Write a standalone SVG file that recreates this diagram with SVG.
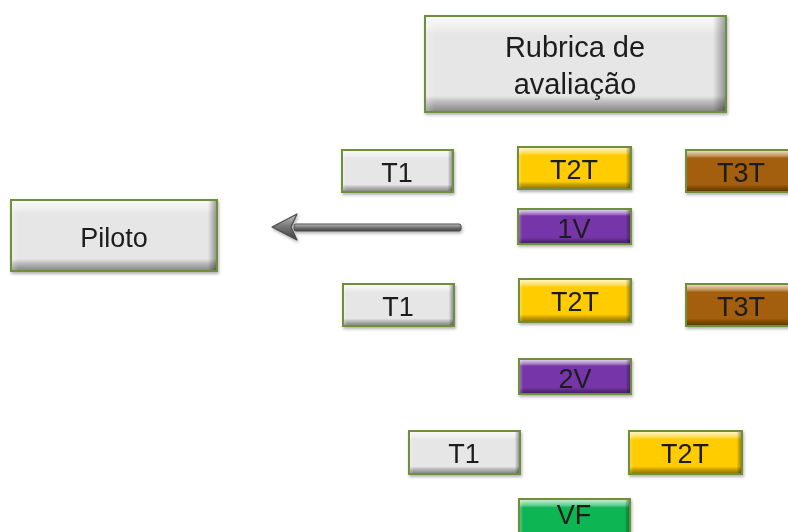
<svg xmlns="http://www.w3.org/2000/svg" width="788" height="532" viewBox="0 0 788 532">
  <defs>
    <style>
      .box { stroke: #6f8f3a; stroke-width: 2; }
      .grey { fill: #e6e6e6; }
      .yellow { fill: #ffcc00; }
      .brown { fill: #a35f07; }
      .purple { fill: #7636a8; }
      .green { fill: #10b552; }
      .bevel { fill: url(#bevelV); stroke: none; }
      .bevelH { fill: url(#bevelH); stroke: none; }
      .label { font-family: "Liberation Sans", Arial, sans-serif; font-size: 27px; fill: #1c1c1c; text-anchor: middle; }
      .big { font-size: 29px; }
      .node { filter: url(#shadow); }
    </style>
    <linearGradient id="bevelV" x1="0" y1="0" x2="0" y2="1">
      <stop offset="0" stop-color="#ffffff" stop-opacity="0.75"/>
      <stop offset="0.12" stop-color="#ffffff" stop-opacity="0.35"/>
      <stop offset="0.18" stop-color="#ffffff" stop-opacity="0"/>
      <stop offset="0.84" stop-color="#000000" stop-opacity="0"/>
      <stop offset="0.9" stop-color="#000000" stop-opacity="0.18"/>
      <stop offset="1" stop-color="#000000" stop-opacity="0.4"/>
    </linearGradient>
    <linearGradient id="bevelH" x1="0" y1="0" x2="1" y2="0">
      <stop offset="0" stop-color="#ffffff" stop-opacity="0.25"/>
      <stop offset="0.03" stop-color="#ffffff" stop-opacity="0"/>
      <stop offset="0.96" stop-color="#000000" stop-opacity="0"/>
      <stop offset="1" stop-color="#000000" stop-opacity="0.35"/>
    </linearGradient>
    <linearGradient id="shaft" x1="0" y1="0" x2="0" y2="1">
      <stop offset="0" stop-color="#c4c4c4"/>
      <stop offset="0.45" stop-color="#7a7a7a"/>
      <stop offset="1" stop-color="#3e3e3e"/>
    </linearGradient>
    <filter id="shadow" x="-10%" y="-20%" width="120%" height="150%">
      <feDropShadow dx="1" dy="2" stdDeviation="1.5" flood-color="#000" flood-opacity="0.3"/>
    </filter>
  </defs>

  <!-- connector: shaded arrow pointing left -->
  <g id="connectors" filter="url(#shadow)">
    <rect x="294" y="224" width="167" height="7" rx="2" fill="url(#shaft)" stroke="#4a4a4a" stroke-width="1"/>
    <polygon points="272,227 297,214 291,227 297,240" fill="url(#shaft)" stroke="#4a4a4a" stroke-width="1.2" stroke-linejoin="round"/>
  </g>

  <!-- nodes -->
  <g id="rubrica" class="node">
    <rect class="box grey" x="425" y="16" width="301" height="96"/>
    <rect class="bevel" x="426" y="17" width="299" height="94"/>
    <rect class="bevelH" x="426" y="17" width="299" height="94"/>
    <text class="label big" x="575" y="57">Rubrica de</text>
    <text class="label big" x="575" y="94">avaliação</text>
  </g>

  <g id="piloto" class="node">
    <rect class="box grey" x="11" y="200" width="206" height="71"/>
    <rect class="bevel" x="12" y="201" width="204" height="69"/>
    <rect class="bevelH" x="12" y="201" width="204" height="69"/>
    <text class="label" x="114" y="247">Piloto</text>
  </g>

  <g id="t1a" class="node">
    <rect class="box grey" x="342" y="150" width="111" height="42"/>
    <rect class="bevel" x="343" y="151" width="109" height="40"/>
    <rect class="bevelH" x="343" y="151" width="109" height="40"/>
    <text class="label" x="397" y="182">T1</text>
  </g>

  <g id="t2ta" class="node">
    <rect class="box yellow" x="518" y="147" width="113" height="42"/>
    <rect class="bevel" x="519" y="148" width="111" height="40"/>
    <rect class="bevelH" x="519" y="148" width="111" height="40"/>
    <text class="label" x="574" y="179">T2T</text>
  </g>

  <g id="t3ta" class="node">
    <rect class="box brown" x="686" y="150" width="112" height="42"/>
    <rect class="bevel" x="687" y="151" width="110" height="40"/>
    <text class="label" x="741" y="182">T3T</text>
  </g>

  <g id="v1" class="node">
    <rect class="box purple" x="518" y="209" width="113" height="35"/>
    <rect class="bevel" x="519" y="210" width="111" height="33"/>
    <rect class="bevelH" x="519" y="210" width="111" height="33"/>
    <text class="label" x="574" y="238">1V</text>
  </g>

  <g id="t1b" class="node">
    <rect class="box grey" x="343" y="284" width="111" height="42"/>
    <rect class="bevel" x="344" y="285" width="109" height="40"/>
    <rect class="bevelH" x="344" y="285" width="109" height="40"/>
    <text class="label" x="398" y="316">T1</text>
  </g>

  <g id="t2tb" class="node">
    <rect class="box yellow" x="519" y="279" width="112" height="43"/>
    <rect class="bevel" x="520" y="280" width="110" height="41"/>
    <rect class="bevelH" x="520" y="280" width="110" height="41"/>
    <text class="label" x="575" y="311">T2T</text>
  </g>

  <g id="t3tb" class="node">
    <rect class="box brown" x="686" y="284" width="112" height="42"/>
    <rect class="bevel" x="687" y="285" width="110" height="40"/>
    <text class="label" x="741" y="316">T3T</text>
  </g>

  <g id="v2" class="node">
    <rect class="box purple" x="519" y="359" width="112" height="35"/>
    <rect class="bevel" x="520" y="360" width="110" height="33"/>
    <rect class="bevelH" x="520" y="360" width="110" height="33"/>
    <text class="label" x="575" y="388">2V</text>
  </g>

  <g id="t1c" class="node">
    <rect class="box grey" x="409" y="431" width="111" height="43"/>
    <rect class="bevel" x="410" y="432" width="109" height="41"/>
    <rect class="bevelH" x="410" y="432" width="109" height="41"/>
    <text class="label" x="464" y="463">T1</text>
  </g>

  <g id="t2tc" class="node">
    <rect class="box yellow" x="629" y="431" width="113" height="43"/>
    <rect class="bevel" x="630" y="432" width="111" height="41"/>
    <rect class="bevelH" x="630" y="432" width="111" height="41"/>
    <text class="label" x="685" y="463">T2T</text>
  </g>

  <g id="vf" class="node">
    <rect class="box green" x="519" y="499" width="111" height="45"/>
    <rect class="bevel" x="520" y="500" width="109" height="43"/>
    <rect class="bevelH" x="520" y="500" width="109" height="43"/>
    <text class="label" x="574" y="524">VF</text>
  </g>
</svg>
